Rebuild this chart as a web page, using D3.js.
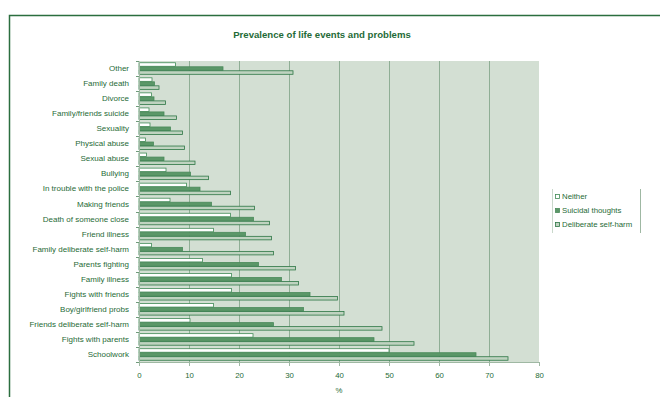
<!DOCTYPE html>
<html>
<head>
<meta charset="utf-8">
<script src="https://cdn.jsdelivr.net/npm/d3@7"></script>
<style>
  html, body { margin: 0; padding: 0; background: #fff; }
  svg { display: block; font-family: "Liberation Sans", Arial, sans-serif; }
</style>
</head>
<body>
<div id="chart"></div>
<script>
// Life events and problems, top to bottom
const categories = [
  "Other", "Family death", "Divorce", "Family/friends suicide", "Sexuality",
  "Physical abuse", "Sexual abuse", "Bullying", "In trouble with the police",
  "Making friends", "Death of someone close", "Friend illness",
  "Family deliberate self-harm", "Parents fighting", "Family illness",
  "Fights with friends", "Boy/girlfriend probs", "Friends deliberate self-harm",
  "Fights with parents", "Schoolwork"
];

const seriesNames = ["Neither", "Suicidal thoughts", "Deliberate self-harm"];

// Percentages per group
const neither = [7.3, 2.6, 2.5, 2.0, 2.2, 1.3, 1.5, 5.4, 9.5, 6.2, 18.3, 14.9, 2.5, 12.7, 18.5, 18.5, 14.9, 10.2, 22.8, 50.0];
const suicidal = [16.8, 3.1, 3.0, 5.0, 6.3, 2.9, 5.0, 10.3, 12.2, 14.5, 22.9, 21.3, 8.7, 23.9, 28.5, 34.2, 32.9, 26.9, 47.0, 67.4];
const selfHarm = [30.8, 4.0, 5.3, 7.5, 8.7, 9.1, 11.2, 13.9, 18.3, 23.1, 26.1, 26.5, 26.9, 31.3, 31.9, 39.7, 41.0, 48.6, 55.0, 73.8];

const xTicks = [0, 10, 20, 30, 40, 50, 60, 70, 80];

const W = 660, H = 401;
const margin = { left: 139, right: 121, top: 61, bottom: 39 };
const innerW = W - margin.left - margin.right;
const innerH = H - margin.top - margin.bottom;

const ink = "#1f6b37";
const styles = [
  { fill: "#ffffff", stroke: "#3f8a55" },
  { fill: "#5b9768", stroke: "#4a8a5a" },
  { fill: "#bfd3c0", stroke: "#2c7644" }
];

const svg = d3.select("#chart").append("svg")
  .attr("width", W).attr("height", H);

// outer frame
svg.append("path")
  .attr("d", `M9.5,397 V15.5 H${W + 5}`)
  .attr("fill", "none").attr("stroke", "#2b6e3f").attr("stroke-width", 1.5);

svg.append("text")
  .attr("x", 322).attr("y", 38)
  .attr("text-anchor", "middle")
  .attr("font-size", 9.6).attr("font-weight", "bold")
  .attr("fill", ink)
  .text("Prevalence of life events and problems");

const g = svg.append("g").attr("transform", `translate(${margin.left},${margin.top})`);

const x = d3.scaleLinear().domain([0, 80]).range([0, innerW]);
const y = d3.scaleBand().domain(categories).range([0, innerH]).paddingInner(0.2).paddingOuter(0.1);
const ySub = d3.scaleBand().domain(seriesNames).range([0, y.bandwidth()]);

// plot background
g.append("rect").attr("width", innerW).attr("height", innerH).attr("fill", "#d3dfd3");

// vertical gridlines
g.selectAll("line.grid").data(xTicks.filter(t => t > 0 && t < 80)).join("line")
  .attr("class", "grid")
  .attr("x1", d => x(d) + 0.5).attr("x2", d => x(d) + 0.5)
  .attr("y1", 0).attr("y2", innerH)
  .attr("stroke", "#8fae95").attr("stroke-width", 1);

const allSeries = [neither, suicidal, selfHarm];

const groups = g.selectAll("g.cat").data(categories).join("g")
  .attr("class", "cat")
  .attr("transform", d => `translate(0,${y(d)})`);

groups.each(function (cat, i) {
  const grp = d3.select(this);
  seriesNames.forEach((s, j) => {
    const v = allSeries[j][i];
    grp.append("rect")
      .attr("x", x(0))
      .attr("y", ySub(s) + 0.25)
      .attr("width", x(v) - x(0))
      .attr("height", ySub.bandwidth() - 0.5)
      .attr("fill", styles[j].fill)
      .attr("stroke", styles[j].stroke)
      .attr("stroke-width", 0.8);
  });
});

// category axis
const yAxis = g.append("g").call(
  d3.axisLeft(y).tickSize(0).tickPadding(10)
);
yAxis.select(".domain").attr("stroke", "#9fb8a3");
yAxis.selectAll("text").attr("font-size", 8).attr("fill", ink)
  .attr("font-family", "Liberation Sans, Arial, sans-serif");

// boundary ticks between categories
const step = y.step();
g.selectAll("line.ctick").data(d3.range(categories.length + 1)).join("line")
  .attr("class", "ctick")
  .attr("x1", -3).attr("x2", 0)
  .attr("y1", d => Math.round(y.range()[0] + y.paddingOuter() * step + d * step - step * y.paddingInner() / 2) + 0.5)
  .attr("y2", d => Math.round(y.range()[0] + y.paddingOuter() * step + d * step - step * y.paddingInner() / 2) + 0.5)
  .attr("stroke", "#6f9a7a");

// value axis
const xAxis = g.append("g").attr("transform", `translate(0,${innerH})`)
  .call(d3.axisBottom(x).tickValues(xTicks).tickSize(4).tickPadding(6));
xAxis.select(".domain").attr("stroke", "#9fb8a3");
xAxis.selectAll("line").attr("stroke", "#9fb8a3");
xAxis.selectAll("text").attr("font-size", 7.8).attr("fill", ink)
  .attr("font-family", "Liberation Sans, Arial, sans-serif");

g.append("text")
  .attr("x", innerW / 2).attr("y", innerH + 31)
  .attr("text-anchor", "middle")
  .attr("font-size", 7.8).attr("fill", ink)
  .text("%");

// legend
const lg = svg.append("g").attr("transform", "translate(552,189)");
lg.append("line").attr("x1", 0.5).attr("x2", 0.5).attr("y1", 0).attr("y2", 44).attr("stroke", "#c9d8cb");
lg.append("line").attr("x1", 88.5).attr("x2", 88.5).attr("y1", 0).attr("y2", 44).attr("stroke", "#9fb8a3");
seriesNames.forEach((s, j) => {
  const row = lg.append("g").attr("transform", `translate(3,${5 + j * 14})`);
  row.append("rect").attr("x", 0.5).attr("y", 0.5).attr("width", 4).attr("height", 4)
    .attr("fill", styles[j].fill).attr("stroke", styles[j].stroke).attr("stroke-width", 0.8);
  row.append("text").attr("x", 7).attr("y", 5).attr("font-size", 7.8).attr("fill", ink).text(s);
});
</script>
</body>
</html>
